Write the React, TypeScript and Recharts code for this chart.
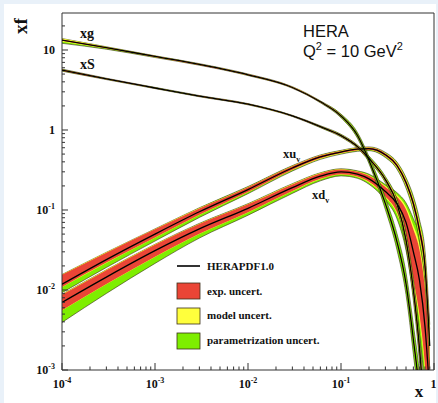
import React from "react";
import { ComposedChart, Area, Line, XAxis, YAxis, ReferenceArea } from "recharts";

// x grid shared by every pdf
const xs = [1e-4, 3e-4, 1e-3, 3e-3, 0.01, 0.03, 0.06, 0.1, 0.15, 0.2, 0.3, 0.4, 0.5, 0.6, 0.7, 0.8, 0.9];

// central values
const xgC = [13.3, 10.7, 8.3, 6.6, 4.9, 3.4, 2.25, 1.5, 0.86, 0.42, 0.12, 0.04, 0.012, 0.0024, 0.0005, 0.00006, 0.000005];
const xsC = [5.6, 4.35, 3.35, 2.65, 2.1, 1.5, 1.1, 0.85, 0.62, 0.44, 0.24, 0.12, 0.042, 0.01, 0.0018, 0.0002, 0.00001];
const xuvC = [0.0118, 0.024, 0.05, 0.095, 0.18, 0.335, 0.46, 0.53, 0.575, 0.585, 0.49, 0.36, 0.22, 0.12, 0.055, 0.02, 0.002];
const xdvC = [0.007, 0.0145, 0.031, 0.058, 0.105, 0.19, 0.265, 0.3, 0.28, 0.245, 0.17, 0.12, 0.07, 0.03, 0.013, 0.0035, 0.0005];

// uncertainties in percent (as factors): exp down / up, model, parametrisation down / up
const xgExpLo = [2, 1.5, 1.5, 1.5, 1.5, 1.5, 1.5, 2, 2, 2, 3, 4, 5, 7, 10, 12, 15];
const xgExpHi = [2, 1.5, 1.5, 1.5, 1.5, 1.5, 1.5, 2, 2, 2, 3, 4, 5, 7, 10, 12, 15];
const xgMod = [2.5, 1, 0.5, 0.3, 0.3, 0.3, 0.3, 0.3, 0.5, 0.5, 1, 1, 2, 3, 4, 5, 5];
const xgParLo = [5, 2, 1, 0.5, 0.5, 0.5, 1, 3, 6, 8, 14, 20, 28, 38, 48, 55, 60];
const xgParHi = [0, 0, 0, 0.5, 0.5, 0.5, 1, 3, 6, 8, 14, 20, 28, 38, 48, 55, 60];

const xsExpLo = [1.5, 1.2, 1, 1, 1, 1, 1.5, 2, 2.5, 3, 4, 6, 9, 13, 18, 22, 25];
const xsExpHi = [1.5, 1.2, 1, 1, 1, 1, 1.5, 2, 2.5, 3, 4, 6, 9, 13, 18, 22, 25];
const xsMod = [0.5, 0.3, 0.3, 0.3, 0.3, 0.3, 0.3, 0.5, 0.5, 1, 1, 2, 3, 4, 5, 6, 6];
const xsParLo = [1, 0.5, 0.5, 0.5, 0.5, 0.5, 1, 1.5, 2, 3, 4, 6, 10, 15, 20, 25, 30];
const xsParHi = [1, 0.5, 0.5, 0.5, 0.5, 0.5, 1, 1.5, 2, 3, 4, 6, 10, 15, 20, 25, 30];

const xuvExpLo = [8, 9, 10, 9, 7, 5, 4, 3, 3, 3, 4, 5, 7, 10, 15, 25, 40];
const xuvExpHi = [31, 22, 15, 10, 7, 5, 4, 3, 3, 3, 4, 5, 7, 10, 15, 25, 40];
const xuvMod = [1, 1, 1, 1, 1, 1, 1, 1, 1, 1, 1, 2, 3, 4, 6, 8, 10];
const xuvParLo = [17, 14, 10, 7, 4, 3, 2, 2, 2, 2, 3, 4, 6, 10, 15, 20, 25];
const xuvParHi = [0, 0, 0, 1, 1, 1, 1, 1, 1, 1, 2, 3, 5, 8, 12, 15, 20];

const xdvExpLo = [25, 22, 19, 15, 12, 10, 8, 7, 7, 9, 15, 28, 65, 120, 170, 210, 240];
const xdvExpHi = [25, 22, 19, 15, 12, 10, 8, 7, 7, 9, 14, 22, 45, 90, 140, 190, 230];
const xdvMod = [1, 1, 1, 1, 1, 1, 1, 1, 1, 2, 3, 5, 8, 12, 18, 24, 30];
const xdvParLo = [41, 30, 20, 12, 8, 6, 5, 4, 4, 5, 8, 15, 25, 40, 50, 60, 70];
const xdvParHi = [0, 0, 0, 1, 1, 1, 1, 1, 2, 3, 4, 7, 12, 22, 32, 42, 50];

const legendItems = ["HERAPDF1.0", "exp. uncert.", "model uncert.", "parametrization uncert."];

const RED = "#ea4536";
const YELLOW = "#ffff3c";
const GREEN = "#7eee00";
const EDGE = "#3b2f1a";

const pdfs = [
  { key: "xdv", c: xdvC, eL: xdvExpLo, eH: xdvExpHi, m: xdvMod, pL: xdvParLo, pH: xdvParHi },
  { key: "xuv", c: xuvC, eL: xuvExpLo, eH: xuvExpHi, m: xuvMod, pL: xuvParLo, pH: xuvParHi },
  { key: "xs", c: xsC, eL: xsExpLo, eH: xsExpHi, m: xsMod, pL: xsParLo, pH: xsParHi },
  { key: "xg", c: xgC, eL: xgExpLo, eH: xgExpHi, m: xgMod, pL: xgParLo, pH: xgParHi },
];

const f = (p: number) => 1 + p / 100;

const data = xs.map((x, i) => {
  const row: any = { x };
  for (const p of pdfs) {
    const c = p.c[i];
    const lo = f(p.eL[i]);
    const hi = f(p.eH[i]);
    const m = f(p.m[i]);
    row[p.key] = c;
    row[p.key + "Exp"] = [c / lo, c * hi];
    row[p.key + "Mod"] = [c / (lo * m), c * hi * m];
    row[p.key + "Tot"] = [c / (lo * m * f(p.pL[i])), c * hi * m * f(p.pH[i])];
  }
  return row;
});

const mant = [1, 2, 3, 4, 5, 6, 7, 8, 9];
const yTicks = [-3, -2, -1, 0, 1].flatMap((e) => mant.map((k) => k * Math.pow(10, e))).filter((v) => v <= 29);
const xTicks = [-4, -3, -2, -1].flatMap((e) => mant.map((k) => k * Math.pow(10, e))).concat([1]);

const SERIF = "'Liberation Serif', 'Times New Roman', serif";
const SANS = "'Liberation Sans', Arial, sans-serif";

function decade(v: number) {
  const l = Math.log10(v);
  const e = Math.round(l);
  return Math.abs(l - e) < 1e-6 ? e : null;
}

function PowLabel({ e }: { e: number }) {
  if (e === 0) return <tspan>1</tspan>;
  if (e === 1) return <tspan>10</tspan>;
  return (
    <>
      <tspan>10</tspan>
      <tspan dy={-5} fontSize={8}>{e}</tspan>
    </>
  );
}

const YTick = (props: any) => {
  const { x, y, payload } = props;
  const e = decade(payload.value);
  return (
    <g>
      <line x1={x} x2={x + (e !== null ? 6 : 3)} y1={y} y2={y} stroke="#333" />
      {e !== null && (
        <text x={x - 7} y={y + 4} textAnchor="end" fontFamily={SERIF} fontWeight="bold" fontSize={12} fill="#111">
          <PowLabel e={e} />
        </text>
      )}
    </g>
  );
};

const XTick = (props: any) => {
  const { x, y, payload } = props;
  const e = decade(payload.value);
  return (
    <g>
      <line x1={x} x2={x} y1={y} y2={y - (e !== null ? 7 : 3.5)} stroke="#333" />
      {e !== null && (
        <text x={e === 0 ? x - 0.5 : x} y={y + 18} textAnchor="middle" fontFamily={SERIF} fontWeight="bold" fontSize={12} fill="#111">
          <PowLabel e={e} />
        </text>
      )}
    </g>
  );
};

export default function App() {
  return (
    <div style={{ position: "fixed", inset: 0, background: "#e9f1f9" }}>
      <div style={{ position: "absolute", left: 4, top: 4, width: 432, height: 400, background: "#fff" }} />
      <div style={{ position: "absolute", left: 0, top: 0, width: 438, height: 403 }}>
        <ComposedChart width={438} height={403} data={data} margin={{ top: 13, right: 4, bottom: 3, left: 12 }}>
          <XAxis
            dataKey="x"
            type="number"
            scale="log"
            domain={[1e-4, 1]}
            ticks={xTicks}
            allowDataOverflow
            height={30}
            tickSize={0}
            tickMargin={0}
            tick={<XTick />}
            axisLine={false}
            interval={0}
          />
          <YAxis
            type="number"
            scale="log"
            domain={[1e-3, 29]}
            ticks={yTicks}
            allowDataOverflow
            width={50}
            tickSize={0}
            tickMargin={0}
            tick={<YTick />}
            axisLine={false}
            interval={0}
          />
          {pdfs.flatMap((p) => [
            <Area key={p.key + "t"} type="monotone" dataKey={p.key + "Tot"} fill={GREEN} fillOpacity={1} stroke={EDGE} strokeWidth={0.6} isAnimationActive={false} dot={false} activeDot={false} />,
            <Area key={p.key + "m"} type="monotone" dataKey={p.key + "Mod"} fill={YELLOW} fillOpacity={1} stroke="none" isAnimationActive={false} dot={false} activeDot={false} />,
            <Area key={p.key + "e"} type="monotone" dataKey={p.key + "Exp"} fill={RED} fillOpacity={1} stroke="none" isAnimationActive={false} dot={false} activeDot={false} />,
            <Line key={p.key + "c"} type="monotone" dataKey={p.key} stroke="#000" strokeWidth={1.3} dot={false} activeDot={false} isAnimationActive={false} />,
          ])}
          <ReferenceArea x1={1e-4} x2={1} y1={1e-3} y2={29} fill="none" stroke="#333" strokeWidth={1} ifOverflow="visible" />
        </ComposedChart>
      </div>
      <svg width={438} height={403} style={{ position: "absolute", left: 0, top: 0, pointerEvents: "none" }}>
        <text transform="translate(27,26) rotate(-90)" textAnchor="middle" fontFamily={SERIF} fontWeight="bold" fontSize={19} fill="#111">xf</text>
        <text x={419} y={397} textAnchor="middle" fontFamily={SERIF} fontWeight="bold" fontSize={17} fill="#111">x</text>
        <text x={303} y={37} fontFamily={SANS} fontSize={16.5} fill="#111">HERA</text>
        <text x={303} y={57} fontFamily={SANS} fontSize={16.5} fill="#111">
          Q<tspan dy={-7} fontSize={11}>2</tspan><tspan dy={7}> = 10 GeV</tspan><tspan dy={-7} fontSize={11}>2</tspan>
        </text>
        <g fontFamily={SERIF} fontWeight="bold" fill="#111">
          <text x={80} y={38} fontSize={14}>xg</text>
          <text x={80} y={69} fontSize={14}>xS</text>
          <text x={283} y={158} fontSize={12.5}>xu<tspan dy={4} fontSize={8}>v</tspan></text>
          <text x={312} y={199} fontSize={12.5}>xd<tspan dy={4} fontSize={8}>v</tspan></text>
        </g>
        <line x1={177} x2={200} y1={266} y2={266} stroke="#333" strokeWidth={2} />
        <rect x={177} y={283} width={23} height={16} fill={RED} stroke={EDGE} strokeWidth={0.8} />
        <rect x={177} y={308} width={23} height={16} fill={YELLOW} stroke={EDGE} strokeWidth={0.8} />
        <rect x={177} y={333} width={23} height={16} fill={GREEN} stroke={EDGE} strokeWidth={0.8} />
        <g fontFamily={SERIF} fontWeight="bold" fontSize={11} fill="#111">
          {legendItems.map((t, i) => (
            <text key={t} x={207} y={270 + i * 24.7}>{t}</text>
          ))}
        </g>
      </svg>
    </div>
  );
}
